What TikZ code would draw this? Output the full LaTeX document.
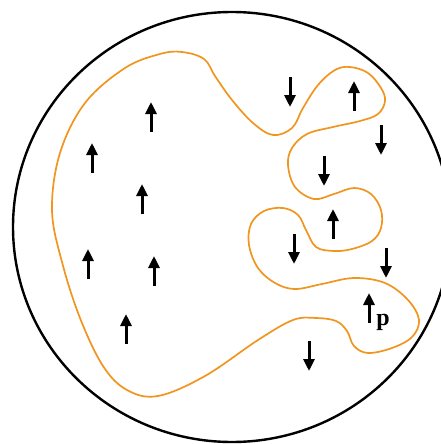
\documentclass[tikz,border=0pt]{standalone}
\usepackage{fontspec}
\setmainfont{Liberation Serif}
\usepackage{tikz}
\usetikzlibrary{arrows.meta}
\definecolor{loopor}{HTML}{F0951E}

\begin{document}
\begin{tikzpicture}[x=1pt,y=-1pt,
  spin/.style={line width=3pt,-{Triangle[width=11pt,length=12pt]}}]
\useasboundingbox (0,0) rectangle (440,444);
\draw[line width=2.4pt] (232,227) ellipse (219 and 215);
\draw[loopor,line width=1.7pt] plot[smooth cycle,tension=0.6] coordinates {
  (182,52) (204,59) (215,76) (232,100) (253,123) (273,135) (292,128)
  (303,108) (318,85) (335,70) (350,67) (368,73) (381,88) (385,101)
  (378,114) (360,121) (333,127) (307,134) (292,148) (288,165) (295,187) (314,199)
  (334,194) (354,188) (371,194) (381,210) (381,228) (372,241) (352,249) (334,251)
  (316,247) (306,230) (298,215) (283,208) (264,211) (251,224) (249,245) (258,268)
  (275,283) (295,289) (322,284) (354,278) (385,283) (408,300) (419,320) (412,337)
  (392,348) (368,353) (354,346) (347,331) (336,321) (316,318) (293,320)
  (258,340) (205,376) (158,396) (127,390) (103,366) (80,318) (62,262) (52,210)
  (60,153) (85,103) (125,68) (160,54)};
\foreach \x/\y in {151/117,92/158,142/199,88/264,154/271,126/329,354/96,333/224,369/308}{
  \draw[spin] (\x,\y+15)--(\x,\y-15);}
\foreach \x/\y in {290/92,381/140,324/171,294/249,386/263,309/356}{
  \draw[spin] (\x,\y-15)--(\x,\y+15);}
\node[font=\bfseries\fontsize{24}{24}\selectfont] (p) at (383,322) {p};
\end{tikzpicture}
\end{document}
